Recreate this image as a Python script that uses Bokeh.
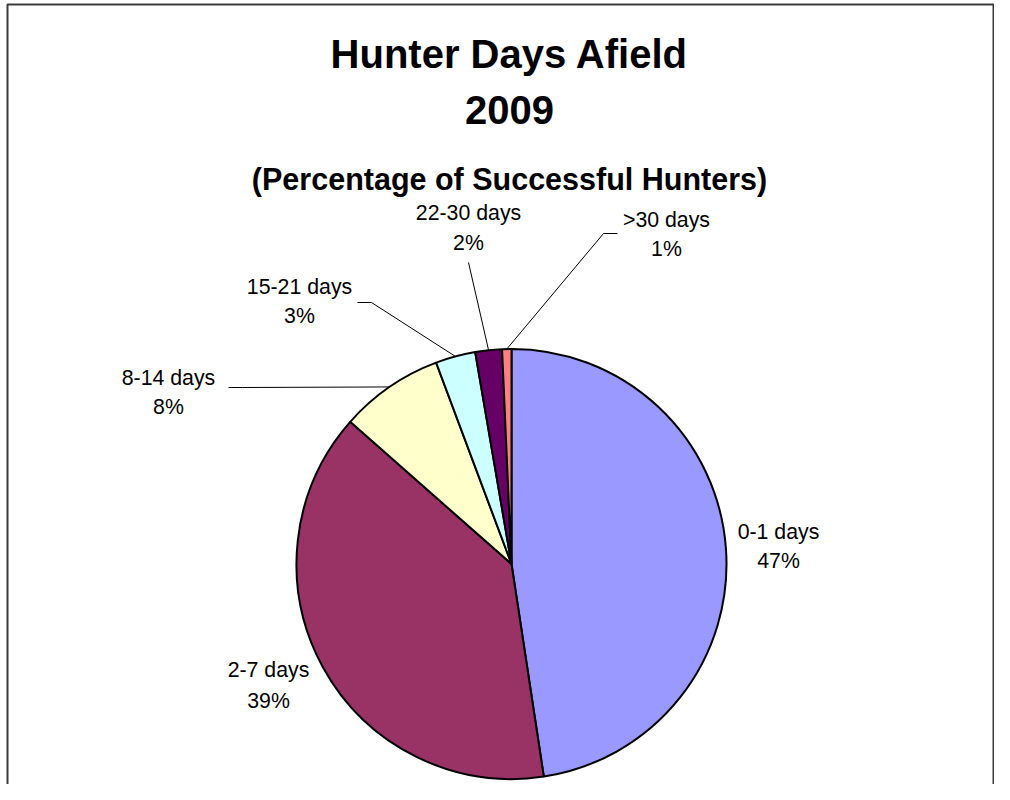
import math
from bokeh.plotting import figure
from bokeh.models import Range1d, ColumnDataSource
from bokeh.embed import file_html
from bokeh.resources import INLINE
from bokeh.core.properties import value

# ---------------- data ----------------
categories = ["0-1 days", "2-7 days", "8-14 days", "15-21 days", "22-30 days", ">30 days"]
percent = [47.6, 38.9, 7.8, 3.0, 2.0, 0.7]
pct_labels = ["47%", "39%", "8%", "3%", "2%", "1%"]
colors = ["#9999FF", "#993366", "#FFFFCC", "#CCFFFF", "#660066", "#FF8080"]

title_lines = ["Hunter Days Afield", "2009", "(Percentage of Successful Hunters)"]

# ---------------- layout (pixel coordinates, origin top-left) ----------------
W, H = 994, 784
FONT = "Liberation Sans"
CX, CY, R = 511, 563.5, 215          # pie centre / radius in pixels


def sy(y):
    """pixel y (down) -> data y (up)"""
    return H - y


p = figure(width=W, height=H, x_range=Range1d(0, W), y_range=Range1d(0, H),
           output_backend="svg", toolbar_location=None, min_border=0)
p.axis.visible = False
p.grid.visible = False
p.outline_line_color = None
p.background_fill_color = "white"
p.border_fill_color = "white"

# chart frame
p.multi_line(xs=[[7, 7, 993, 993]], ys=[[sy(800), sy(4), sy(4), sy(800)]],
             line_color="#3a3a3a", line_width=2)

# ---------------- pie ----------------
total = sum(percent)
c0, c1 = [], []
acc = 0.0
for v in percent:
    c0.append(acc / total)
    acc += v
    c1.append(acc / total)

src = ColumnDataSource(dict(
    cat=categories,
    start=[math.pi / 2 - 2 * math.pi * a for a in c0],
    end=[math.pi / 2 - 2 * math.pi * b for b in c1],
    color=colors,
))
p.wedge(x=CX, y=sy(CY), radius=R, start_angle="start", end_angle="end",
        direction="clock", fill_color="color", line_color="black", line_width=2,
        source=src)

# mid-angle edge points (for leader lines)
mid_pts = []
for a, b in zip(c0, c1):
    t = 2 * math.pi * (a + b) / 2
    mid_pts.append((CX + R * math.sin(t), CY - R * math.cos(t)))

# ---------------- labels ----------------
# label centre x, first-line y, second-line y (pixels)
label_pos = [
    (778, 531, 560),
    (268, 669, 700),
    (168, 377, 406),
    (299, 286, 315),
    (468, 212, 242),
    (666, 219, 248),
]
# leader lines: attachment points near the label (None = no leader)
leader_start = [
    None,
    None,
    [(228, 387), (242, 387)],
    [(357, 302), (371, 302)],
    [(468, 262)],
    [(617, 233), (603, 233)],
]

lx, ly = [], []
for i, pts in enumerate(leader_start):
    if pts is None:
        continue
    xs = [q[0] for q in pts] + [mid_pts[i][0]]
    ys = [sy(q[1]) for q in pts] + [sy(mid_pts[i][1])]
    lx.append(xs)
    ly.append(ys)
p.multi_line(xs=lx, ys=ly, line_color="black", line_width=1)

p.text(x=[q[0] for q in label_pos], y=[sy(q[1]) for q in label_pos], text=categories,
       text_font=value(FONT), text_font_size="21.3px", text_color="black",
       text_align="center", text_baseline="middle")
p.text(x=[q[0] for q in label_pos], y=[sy(q[2]) for q in label_pos], text=pct_labels,
       text_font=value(FONT), text_font_size="21.3px", text_color="black",
       text_align="center", text_baseline="middle")

# ---------------- title ----------------
p.text(x=[509, 509], y=[sy(53), sy(109)], text=title_lines[:2],
       text_font=value(FONT), text_font_size="40px", text_font_style="bold",
       text_color="black", text_align="center", text_baseline="middle")
p.text(x=[509], y=[sy(178)], text=title_lines[2:],
       text_font=value(FONT), text_font_size="30.5px", text_font_style="bold",
       text_color="black", text_align="center", text_baseline="middle")

open("out.html", "w").write(file_html(p, INLINE))
